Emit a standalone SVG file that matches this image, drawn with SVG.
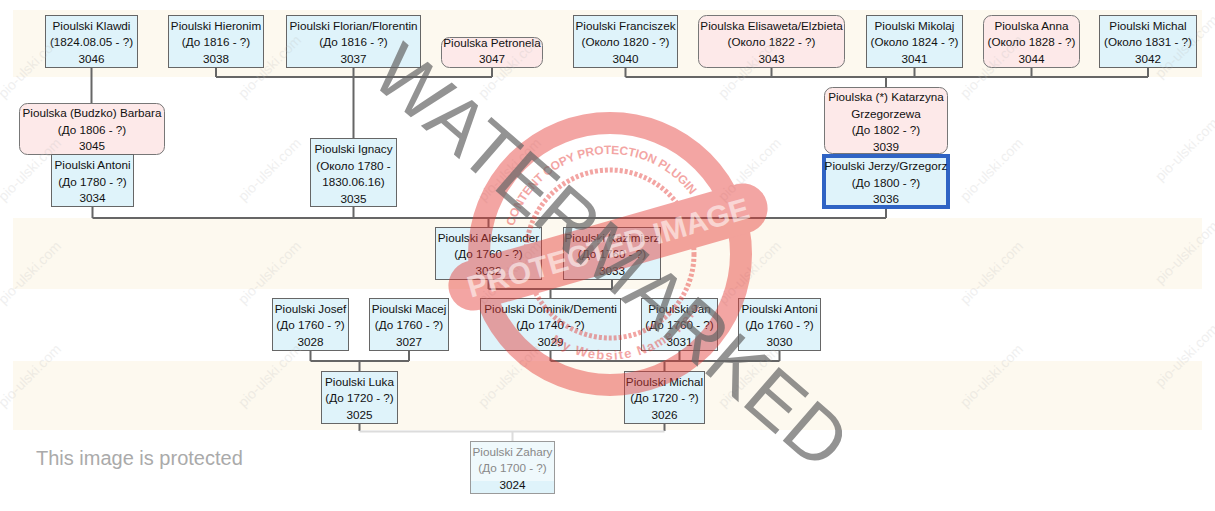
<svg xmlns="http://www.w3.org/2000/svg" width="1215" height="511" viewBox="0 0 1215 511">
<style>
text{font-family:"Liberation Sans",Arial,sans-serif}
.band{fill:#fdf9ef}
.m rect{fill:#dff3fa;stroke:#666;stroke-width:1}
.f rect{fill:#fde9e9;stroke:#777;stroke-width:1}
.sel rect{fill:#dff3fa;stroke:#2f63c4;stroke-width:4}
.node text{font-size:11.7px;fill:#111;text-anchor:middle}
.node text.g{fill:#888}
.c{stroke:#666;stroke-width:2;fill:none}
.cl{stroke:#dcdcdc;stroke-width:2;fill:none}
.wm text{font-size:14px;fill:#bbb;opacity:.22;text-anchor:middle}
.st{fill:none;stroke:#e53935}
.stt1{font-weight:bold;fill:#e53935;font-size:12px}
.stt2{font-weight:bold;fill:#e53935;font-size:13px;letter-spacing:1.5px}
.pi{font-size:30px;font-weight:bold;fill:#fff;opacity:.55;text-anchor:middle}
.wmk{font-size:77px;fill:#666;opacity:.7}
.prot{font-size:20px;fill:#aaa}
</style>
<rect width="1215" height="511" fill="#fff"/>
<g id="bands">
<rect class="band" x="13" y="10" width="1189" height="67"/>
<rect class="band" x="13" y="218" width="1189" height="71"/>
<rect class="band" x="13" y="361" width="1189" height="69"/>
</g>
<g id="connectors">
<path class="c" d="M91.5,68V103"/>
<path class="c" d="M216,68V77M353.5,68V138M492,68V77M216,77H492"/>
<path class="c" d="M625.5,68V77M771.5,68V77M914.5,68V77M1031.5,68V77M1148,68V77M625.5,77H1148M886,77V87"/>
<path class="c" d="M92.5,207V218M353.5,207V218M886,209V218M92.5,218H886M488.5,218V227"/>
<path class="c" d="M488.5,280V289M612,280V289M488.5,289H612M550.5,289V298"/>
<path class="c" d="M310.5,351V361M409,351V361M310.5,361H409M359.5,361V371"/>
<path class="c" d="M550.5,351V361M679.5,351V361M779.5,351V361M550.5,361H779.5M664.5,361V371"/>
<path class="c" d="M359.5,424V431M664.5,424V431"/>
<path class="cl" d="M359.5,431.5H664.5M512.5,431.5V441"/>
</g>
<g id="n3046" class="node m"><rect x="45.5" y="15.5" width="92" height="52"/><text x="91.5" y="29.5">Pioulski Klawdi</text><text x="91.5" y="46">(1824.08.05 - ?)</text><text x="91.5" y="62.5">3046</text></g>
<g id="n3038" class="node m"><rect x="168.5" y="15.5" width="95" height="52"/><text x="216" y="29.5">Pioulski Hieronim</text><text x="216" y="46">(До 1816 - ?)</text><text x="216" y="62.5">3038</text></g>
<g id="n3037" class="node m"><rect x="286.5" y="15.5" width="134" height="52"/><text x="353.5" y="29.5">Pioulski Florian/Florentin</text><text x="353.5" y="46">(До 1816 - ?)</text><text x="353.5" y="62.5">3037</text></g>
<g id="n3047" class="node f"><rect x="441.5" y="37.5" width="101" height="30" rx="8"/><text x="492" y="46.5">Pioulska Petronela</text><text x="492" y="63">3047</text></g>
<g id="n3040" class="node m"><rect x="573.5" y="15.5" width="104" height="52"/><text x="625.5" y="29.5">Pioulski Franciszek</text><text x="625.5" y="46">(Около 1820 - ?)</text><text x="625.5" y="62.5">3040</text></g>
<g id="n3043" class="node f"><rect x="698.5" y="15.5" width="146" height="52" rx="8"/><text x="771.5" y="29.5">Pioulska Elisaweta/Elzbieta</text><text x="771.5" y="46">(Около 1822 - ?)</text><text x="771.5" y="62.5">3043</text></g>
<g id="n3041" class="node m"><rect x="866.5" y="15.5" width="96" height="52"/><text x="914.5" y="29.5">Pioulski Mikolaj</text><text x="914.5" y="46">(Около 1824 - ?)</text><text x="914.5" y="62.5">3041</text></g>
<g id="n3044" class="node f"><rect x="983.5" y="15.5" width="96" height="52" rx="8"/><text x="1031.5" y="29.5">Pioulska Anna</text><text x="1031.5" y="46">(Около 1828 - ?)</text><text x="1031.5" y="62.5">3044</text></g>
<g id="n3042" class="node m"><rect x="1099.5" y="15.5" width="97" height="52"/><text x="1148" y="29.5">Pioulski Michal</text><text x="1148" y="46">(Около 1831 - ?)</text><text x="1148" y="62.5">3042</text></g>
<g id="n3045" class="node f"><rect x="19.5" y="103.5" width="145" height="51" rx="8"/><text x="92" y="117">Pioulska (Budzko) Barbara</text><text x="92" y="133.5">(До 1806 - ?)</text><text x="92" y="150">3045</text></g>
<g id="n3034" class="node m"><rect x="51.5" y="154.5" width="82" height="52"/><text x="92.5" y="169">Pioulski Antoni</text><text x="92.5" y="185.5">(До 1780 - ?)</text><text x="92.5" y="202">3034</text></g>
<g id="n3035" class="node m"><rect x="310.5" y="138.5" width="86" height="68"/><text x="353.5" y="153">Pioulski Ignacy</text><text x="353.5" y="169.5">(Около 1780 -</text><text x="353.5" y="186">1830.06.16)</text><text x="353.5" y="202.5">3035</text></g>
<g id="n3039" class="node f"><rect x="824.5" y="87.5" width="123" height="66" rx="8"/><text x="886" y="101">Pioulska (*) Katarzyna</text><text x="886" y="117.5">Grzegorzewa</text><text x="886" y="134">(До 1802 - ?)</text><text x="886" y="150.5">3039</text></g>
<g id="n3036" class="node sel"><rect x="824" y="156" width="124" height="51"/><text x="886" y="170">Pioulski Jerzy/Grzegorz</text><text x="886" y="186.5">(До 1800 - ?)</text><text x="886" y="203">3036</text></g>
<g id="n3032" class="node m"><rect x="435.5" y="227.5" width="106" height="52"/><text x="488.5" y="241.5">Pioulski Aleksander</text><text x="488.5" y="258">(До 1760 - ?)</text><text x="488.5" y="274.5">3032</text></g>
<g id="n3033" class="node m"><rect x="563.5" y="227.5" width="97" height="52"/><text x="612" y="241.5">Pioulski Kazimierz</text><text x="612" y="258">(До 1760 - ?)</text><text x="612" y="274.5">3033</text></g>
<g id="n3028" class="node m"><rect x="272.5" y="298.5" width="76" height="52"/><text x="310.5" y="312.5">Pioulski Josef</text><text x="310.5" y="329">(До 1760 - ?)</text><text x="310.5" y="345.5">3028</text></g>
<g id="n3027" class="node m"><rect x="369.5" y="298.5" width="79" height="52"/><text x="409" y="312.5">Pioulski Macej</text><text x="409" y="329">(До 1760 - ?)</text><text x="409" y="345.5">3027</text></g>
<g id="n3029" class="node m"><rect x="480.5" y="298.5" width="140" height="52"/><text x="550.5" y="312.5">Pioulski Dominik/Dementi</text><text x="550.5" y="329">(До 1740 - ?)</text><text x="550.5" y="345.5">3029</text></g>
<g id="n3031" class="node m"><rect x="641.5" y="298.5" width="76" height="52"/><text x="679.5" y="312.5">Pioulski Jan</text><text x="679.5" y="329">(До 1760 - ?)</text><text x="679.5" y="345.5">3031</text></g>
<g id="n3030" class="node m"><rect x="738.5" y="298.5" width="82" height="52"/><text x="779.5" y="312.5">Pioulski Antoni</text><text x="779.5" y="329">(До 1760 - ?)</text><text x="779.5" y="345.5">3030</text></g>
<g id="n3025" class="node m"><rect x="321.5" y="371.5" width="76" height="52"/><text x="359.5" y="385.5">Pioulski Luka</text><text x="359.5" y="402">(До 1720 - ?)</text><text x="359.5" y="418.5">3025</text></g>
<g id="n3026" class="node m"><rect x="624.5" y="371.5" width="80" height="52"/><text x="664.5" y="385.5">Pioulski Michal</text><text x="664.5" y="402">(До 1720 - ?)</text><text x="664.5" y="418.5">3026</text></g>
<g id="n3024" class="node"><rect x="470.5" y="441.5" width="84" height="52" fill="#eff9fc" stroke="#9a9a9a"/><rect x="471" y="481" width="83" height="12" fill="#dff3fa"/><text class="g" x="512.5" y="455.5">Pioulski Zahary</text><text class="g" x="512.5" y="472">(До 1700 - ?)</text><text x="512.5" y="488.5">3024</text></g>
<g id="watermark-text" class="wm">
<text transform="translate(33,70) rotate(-45)">pio-ulski.com</text>
<text transform="translate(273,70) rotate(-45)">pio-ulski.com</text>
<text transform="translate(513,70) rotate(-45)">pio-ulski.com</text>
<text transform="translate(753,70) rotate(-45)">pio-ulski.com</text>
<text transform="translate(995,70) rotate(-45)">pio-ulski.com</text>
<text transform="translate(1190,50) rotate(-45)">pio-ulski.com</text>
<text transform="translate(33,173) rotate(-45)">pio-ulski.com</text>
<text transform="translate(273,173) rotate(-45)">pio-ulski.com</text>
<text transform="translate(513,173) rotate(-45)">pio-ulski.com</text>
<text transform="translate(753,173) rotate(-45)">pio-ulski.com</text>
<text transform="translate(995,173) rotate(-45)">pio-ulski.com</text>
<text transform="translate(1190,153) rotate(-45)">pio-ulski.com</text>
<text transform="translate(33,276) rotate(-45)">pio-ulski.com</text>
<text transform="translate(273,276) rotate(-45)">pio-ulski.com</text>
<text transform="translate(513,276) rotate(-45)">pio-ulski.com</text>
<text transform="translate(753,276) rotate(-45)">pio-ulski.com</text>
<text transform="translate(995,276) rotate(-45)">pio-ulski.com</text>
<text transform="translate(1190,256) rotate(-45)">pio-ulski.com</text>
<text transform="translate(33,379) rotate(-45)">pio-ulski.com</text>
<text transform="translate(273,379) rotate(-45)">pio-ulski.com</text>
<text transform="translate(513,379) rotate(-45)">pio-ulski.com</text>
<text transform="translate(753,379) rotate(-45)">pio-ulski.com</text>
<text transform="translate(995,379) rotate(-45)">pio-ulski.com</text>
<text transform="translate(1190,359) rotate(-45)">pio-ulski.com</text>
</g>
<g id="stamp" opacity="0.45">
<defs>
<path id="arcTop" d="M513.9,226.4A100,100 0 0 1 690.9,195.2"/>
<path id="arcBot" d="M551,342A104,104 0 0 0 708,288"/>
</defs>
<circle class="st" cx="610" cy="254" r="131" stroke-width="22"/>
<circle class="st" cx="610" cy="254" r="84" stroke-width="5" stroke-dasharray="3 2"/>
<text class="stt1"><textPath href="#arcTop" textLength="223">CONTENT COPY PROTECTION PLUGIN</textPath></text>
<text class="stt2"><textPath href="#arcBot">My Website Name Here</textPath></text>
<rect x="443" y="222" width="330" height="50" rx="25" fill="#e53935" transform="rotate(-16 608 247)"/>
</g>
<text class="pi" x="608" y="258" transform="rotate(-16 608 247)">PROTECTED IMAGE</text>
<text class="wmk" x="368" y="80" transform="rotate(41 368 80)">WATERMARKED</text>
<text class="prot" x="36" y="465">This image is protected</text>
</svg>
